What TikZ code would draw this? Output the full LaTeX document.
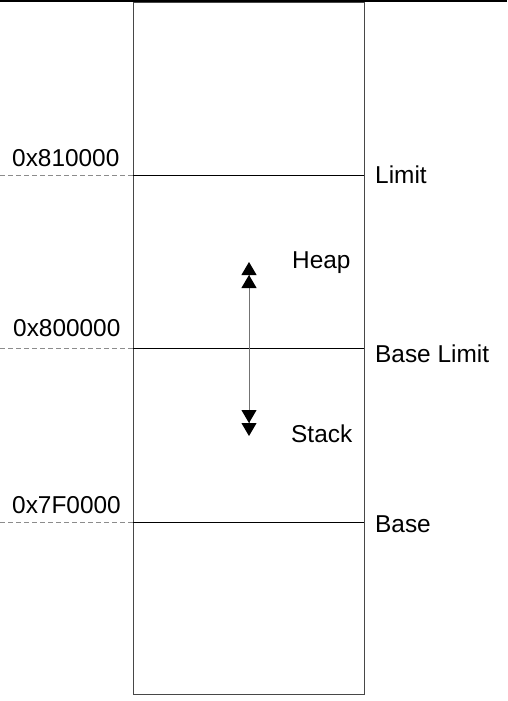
\documentclass[tikz,border=0pt]{standalone}
\usepackage{fontspec}
\setmainfont{Liberation Sans}
\usetikzlibrary{arrows.meta, positioning}
\colorlet{boxgray}{black!72}
\colorlet{dashgray}{black!45}

\begin{document}
\begin{tikzpicture}[x=1pt, y=-1pt,
    tag/.style={inner sep=0pt,
      anchor=base west,
      font=\fontsize{24.4}{28}\selectfont},
    bound/.style={draw=black, line width=1pt},
    guide/.style={draw=dashgray, dash pattern=on 5pt off 3pt, line width=1pt},
    memory/.style={draw=boxgray, line width=1.3pt, inner sep=0pt},
    growth/.style={draw=black!55, line width=1pt,
      {Triangle[width=15pt,length=13pt,color=black,sep=0pt]
       Triangle[width=15pt,length=13pt,color=black]}-{Triangle[width=15pt,length=13pt,color=black,sep=0pt]
       Triangle[width=15pt,length=13pt,color=black]}}]

  \useasboundingbox (0,0) rectangle (507,701);

  % MEMORY

  \draw[line width=2pt] (0,1) -- (507,1);

  \node[memory,
    minimum width=231pt,
    minimum height=692pt,
    anchor=north west] (memory) at (133,2) {};

  % LEVELS

  \foreach \lvl/\y in {limit/175, baselimit/348, base/522} {
    \coordinate (\lvl O) at (0,\y);
    \coordinate (\lvl L) at (133,\y);
    \coordinate (\lvl R) at (364,\y);
    \draw[guide] (\lvl O) -- (\lvl L);
    \draw[bound] (\lvl L) -- (\lvl R);
  }

  \node[tag] (addrtop) at (12,166) {0x810000};
  \node[tag] (addrmid) at (13,336) {0x800000};
  \node[tag] (addrlow) at (12,513) {0x7F0000};

  \node[tag] (limit) at (375,183) {Limit};
  \node[tag] (baselimit) at (375,362) {Base Limit};
  \node[tag] (base) at (375,532) {Base};

  % HEAP AND STACK

  \node[tag] (heap) at (292,268) {Heap};
  \node[tag] (stack) at (291,442) {Stack};

  \coordinate (heaptip) at (249,262);
  \coordinate (stacktip) at (249,436);
  \draw[growth] (stacktip) -- (heaptip);

\end{tikzpicture}
\end{document}
